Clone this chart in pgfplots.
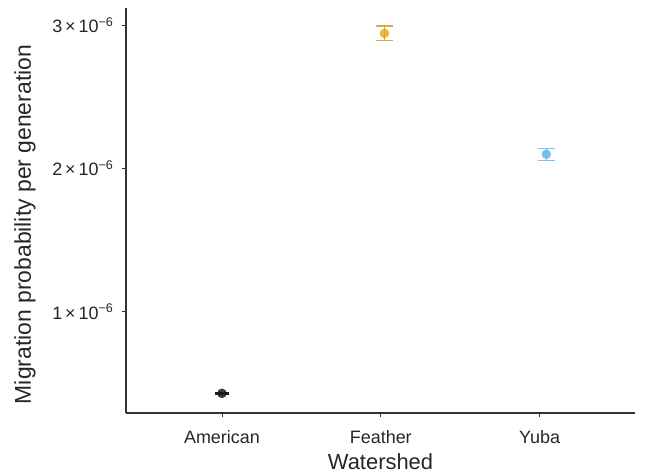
\documentclass[border=0pt]{standalone}
\usepackage{fontspec}
\setmainfont{Liberation Sans}
\usepackage{pgfplots}
\pgfplotsset{compat=1.18}
\definecolor{cFea}{HTML}{E69F00}
\definecolor{cYub}{HTML}{56B4E9}
\definecolor{cAme}{HTML}{1A1A1A}
\definecolor{axc}{HTML}{333333}
\begin{document}
\begin{tikzpicture}
\path (-126bp,-62bp) rectangle (519bp,413bp);
\begin{axis}[
  at={(0,0)}, anchor=south west,
  scale only axis, width=509bp, height=405bp,
  xmin=-0.604, xmax=2.6,
  ymin=0.293e-6, ymax=3.121e-6,
  axis x line*=bottom, axis y line*=left,
  axis line style={axc, line width=1.1pt, -},
  xtick={0,1,2}, xticklabels={American,Feather,Yuba},
  ytick={1e-6,2e-6,3e-6},
  yticklabels={{1\,×\,10\textsuperscript{−6}},{2\,×\,10\textsuperscript{−6}},{3\,×\,10\textsuperscript{−6}}},
  scaled y ticks=false,
  tick align=outside, major tick length=4bp,
  tick style={axc, line width=0.9pt},
  tick label style={font=\fontsize{18}{20}\selectfont, text=black!85},
  xticklabel style={anchor=base, yshift=-26bp},
  yticklabel style={xshift=-5bp},
  xlabel={Watershed}, ylabel={Migration probability per generation},
  xlabel style={font=\fontsize{22}{25}\selectfont, text=black!85, at={(axis description cs:0.5,0)}, anchor=base, yshift=-56bp},
  ylabel style={font=\fontsize{23}{26}\selectfont, text=black!85, at={(axis description cs:0,0.5)}, anchor=base, yshift=95bp, xshift=-14bp},
  clip=false,
]
\addplot[only marks, mark=*, mark size=4.5bp, color=cAme, fill opacity=0.85,
  error bars/.cd, y dir=both, y explicit,
  error mark options={rotate=90, mark size=7bp, line width=1.2pt, cAme},
  error bar style={line width=1.2pt, cAme}]
  coordinates {(0,0.430e-6) +- (0,0.005e-6)};
\addplot[only marks, mark=*, mark size=4.5bp, color=cFea, fill opacity=0.75, draw opacity=0.75,
  error bars/.cd, y dir=both, y explicit,
  error mark options={rotate=90, mark size=8.5bp, line width=1.4pt, cFea!90!black},
  error bar style={line width=1.4pt, cFea!90!black}]
  coordinates {(1.023,2.944e-6) +- (0,0.052e-6)};
\addplot[only marks, mark=*, mark size=4.5bp, color=cYub, fill opacity=0.8, draw opacity=0.8,
  error bars/.cd, y dir=both, y explicit,
  error mark options={rotate=90, mark size=8.5bp, line width=1.4pt, cYub},
  error bar style={line width=1.4pt, cYub}]
  coordinates {(2.042,2.100e-6) +- (0,0.042e-6)};
\end{axis}
\end{tikzpicture}
\end{document}
